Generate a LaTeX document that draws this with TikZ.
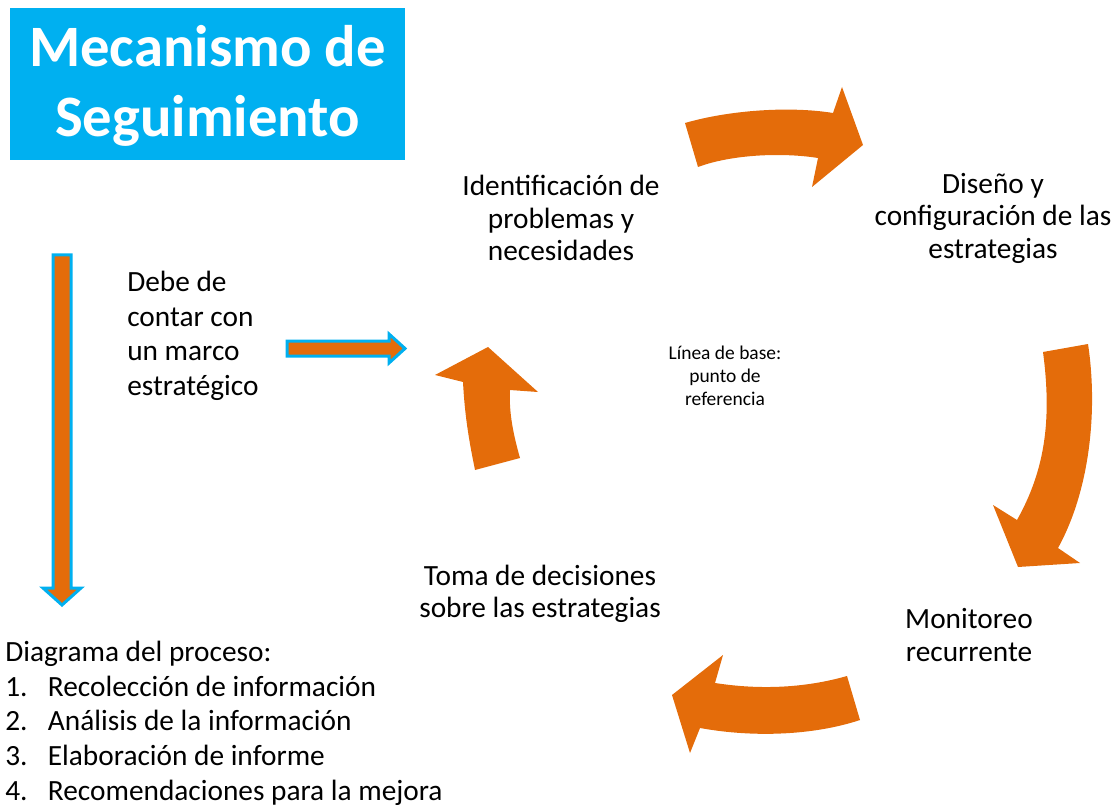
\documentclass[tikz,border=0pt]{standalone}
\usepackage{fontspec}
\setmainfont{Carlito}
\usepackage{tikz}

\definecolor{naranja}{RGB}{228,108,10}
\definecolor{celeste}{RGB}{0,176,240}

\tikzset{
  texto/.style={align=center,inner sep=0pt,font=\fontsize{22}{24.4}\selectfont},
  flecha/.style={fill=naranja},
  flechaborde/.style={fill=naranja,draw=celeste,line width=2.25pt,line join=miter}
}

\begin{document}
\begin{tikzpicture}
[x=0.75pt,y=-0.75pt]
\useasboundingbox (0,0) rectangle (1117,809);

% titulo
\node[fill=celeste,minimum width=296.25pt,minimum height=114pt] (titulo) at (207.5,84) {};
\node[text=white,align=center,font=\fontsize{44}{52.5}\selectfont\bfseries] (titulotxt) at (207.5,86) {Mecanismo de\\Seguimiento};

% textos del ciclo
\node[texto] (ident) at (561,218) {Identificación de\\problemas y\\necesidades};
\node[texto] (diseno) at (993,218) {Diseño y\\configuración de las\\estrategias};
\node[texto] (monitoreo) at (969,635) {Monitoreo\\recurrente};
\node[texto] (toma) at (540,594) {Toma de decisiones\\sobre las estrategias};
\node[texto,font=\fontsize{14.6}{17.3}\selectfont] (linea) at (725,376) {Línea de base:\\punto de\\referencia};
\node[texto,align=left,anchor=west,font=\fontsize{22}{26}\selectfont] (debe) at (127,336) {Debe de\\contar con\\un marco\\estratégico};

% lista
\node[texto,align=left,anchor=north west,font=\fontsize{22}{26}\selectfont] (lista) at (5,641)
  {Diagrama del proceso:\\
   \makebox[32pt][l]{1.}Recolección de información\\
   \makebox[32pt][l]{2.}Análisis de la información\\
   \makebox[32pt][l]{3.}Elaboración de informe\\
   \makebox[32pt][l]{4.}Recomendaciones para la mejora};

% flechas curvas del ciclo
\fill[flecha] (685,123) .. controls (730,110) and (790,106) .. (833,113)
  -- (842,87) -- (863,145) -- (812,187) -- (818,158)
  .. controls (780,152) and (730,155) .. (698,167) -- cycle;
\fill[flecha] (1043,352) .. controls (1052,420) and (1045,470) .. (1017,520)
  -- (993,505) -- (1018,567) -- (1080,563) -- (1058,548)
  .. controls (1090,490) and (1098,410) .. (1088,344) -- cycle;
\fill[flecha] (847,676) .. controls (805,688) and (760,690) .. (715,683)
  -- (723,655) -- (672,695) -- (690,753) -- (700,728)
  .. controls (755,738) and (815,735) .. (860,720) -- cycle;
\fill[flecha] (520,458) .. controls (512,430) and (509,410) .. (510,390)
  -- (538,392) -- (488,347) -- (435,375) -- (463,382)
  .. controls (465,420) and (470,445) .. (475,470) -- cycle;

% flechas con borde
\draw[flechaborde] (53,255) -- (71,255) -- (71,588) -- (81,588) -- (62,605)
  -- (43,588) -- (53,588) -- cycle;
\draw[flechaborde] (287,341) -- (389,341) -- (389,334) -- (405,348.5) -- (389,363)
  -- (389,356) -- (287,356) -- cycle;

\end{tikzpicture}
\end{document}
